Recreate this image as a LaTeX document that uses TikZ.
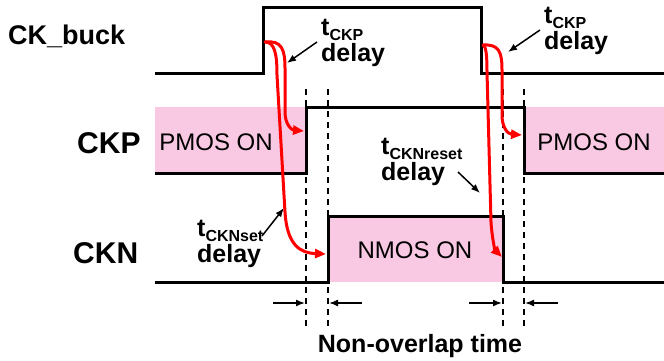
\documentclass[tikz,border=0pt]{standalone}
\usepackage{fontspec}
\setmainfont{Liberation Sans}
\usetikzlibrary{arrows.meta}
\definecolor{onpink}{RGB}{249,200,226}
\definecolor{edgered}{RGB}{255,0,0}
\newcommand{\sigsub}[1]{\raisebox{-5pt}[0pt][0pt]{\fontsize{16}{16}\selectfont #1}}
\begin{document}
\begin{tikzpicture}[x=1pt,y=-1pt,
  wave/.style={line width=3pt, line join=miter},
  guide/.style={line width=1.3pt, dash pattern=on 6pt off 5pt},
  delayarrow/.style={edgered, line width=3pt, line cap=round,
    -{Triangle[length=11pt,width=9pt]}},
  pointer/.style={line width=1.5pt, -{Latex[length=9pt,width=7pt]}},
  siglabel/.style={font=\fontsize{30}{30}\selectfont\bfseries, anchor=base west, inner sep=0},
  onlabel/.style={font=\fontsize{24}{24}\selectfont, anchor=base, inner sep=0},
  delaylabel/.style={font=\fontsize{25}{26}\selectfont\bfseries, align=left,
    anchor=north west, inner sep=0},
  gaplabel/.style={font=\fontsize{25}{25}\selectfont\bfseries, anchor=base, inner sep=0}]
\useasboundingbox (0,0) rectangle (664,361);

% shaded "ON" intervals
\fill[onpink] (155,107) rectangle (306,173);
\fill[onpink] (524,107) rectangle (664,173);
\fill[onpink] (328,216) rectangle (503,282);

% dashed guides at the switching instants
\foreach \gx/\gn in {306/ga, 328/gb, 503/gc, 524/gd} {
  \coordinate (\gn top) at (\gx,89);
  \coordinate (\gn bot) at (\gx,326);
  \draw[guide] (\gn top) -- (\gn bot);
}

% waveforms
\draw[wave] (155,74) -- (263,74) -- (263,8) -- (481,8) -- (481,74) -- (664,74);
\draw[wave] (155,173) -- (306,173) -- (306,107) -- (524,107) -- (524,173) -- (664,173);
\draw[wave] (155,282) -- (328,282) -- (328,216) -- (503,216) -- (503,282) -- (664,282);

% signal names
\node[siglabel, font=\fontsize{27}{27}\selectfont\bfseries] (lbuck) at (8,45) {CK\_buck};
\node[siglabel] (lckp) at (77,153) {CKP};
\node[siglabel] (lckn) at (73,263) {CKN};

% on-state labels
\node[onlabel] (pon1) at (216,150) {PMOS ON};
\node[onlabel] (pon2) at (594,150) {PMOS ON};
\node[onlabel] (non) at (415,258) {NMOS ON};

% delay labels
\node[delaylabel] (dl1) at (321,19) {t\sigsub{CKP}\\delay};
\node[delaylabel] (dl2) at (544,7) {t\sigsub{CKP}\\delay};
\node[delaylabel] (dl3) at (381,138) {t\sigsub{CKNreset}\\delay};
\node[delaylabel] (dl4) at (197,220) {t\sigsub{CKNset}\\delay};

% edge points
\coordinate (ckrise) at (265,42);
\coordinate (ckfall) at (483,45);
\coordinate (ckprise) at (304,131);
\coordinate (cknrise) at (326,254);
\coordinate (ckpfall) at (522,135);
\coordinate (cknfall) at (502,257);

% propagation arrows
\draw[delayarrow] (ckrise) .. controls (282,40) and (285,50) .. (285,68)
  -- (285,112) .. controls (285,125) and (292,130) .. (ckprise);
\draw[delayarrow] (ckrise) .. controls (275,42) and (277,55) .. (277,75)
  -- (285,212) .. controls (287,245) and (300,253) .. (cknrise);
\draw[delayarrow] (ckfall) .. controls (499,44) and (502,52) .. (502,70)
  -- (502,115) .. controls (502,128) and (508,134) .. (ckpfall);
\draw[delayarrow] (ckfall) .. controls (486,46) and (487,55) .. (487,72)
  -- (491,222) .. controls (492,238) and (495,250) .. (cknfall);

% pointers from the delay labels
\coordinate (p1s) at (317,42); \coordinate (p1e) at (287,63);
\coordinate (p2s) at (540,30); \coordinate (p2e) at (508,52);
\coordinate (p3s) at (458,172); \coordinate (p3e) at (480,193);
\coordinate (p4s) at (262,236); \coordinate (p4e) at (284,208);
\draw[pointer] (p1s) -- (p1e);
\draw[pointer] (p2s) -- (p2e);
\draw[pointer] (p3s) -- (p3e);
\draw[pointer] (p4s) -- (p4e);

% non-overlap markers
\coordinate (m1s) at (273,303); \coordinate (m1e) at (305,303);
\coordinate (m2s) at (362,303); \coordinate (m2e) at (329,303);
\coordinate (m3s) at (469,303); \coordinate (m3e) at (502,303);
\coordinate (m4s) at (558,303); \coordinate (m4e) at (525,303);
\draw[pointer] (m1s) -- (m1e);
\draw[pointer] (m2s) -- (m2e);
\draw[pointer] (m3s) -- (m3e);
\draw[pointer] (m4s) -- (m4e);
\node[gaplabel] (gap) at (420,352) {Non-overlap time};
\end{tikzpicture}
\end{document}
